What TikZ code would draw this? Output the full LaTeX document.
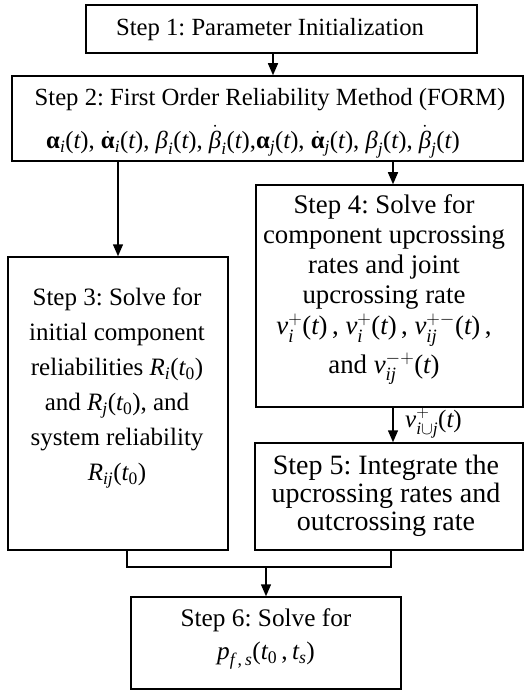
\documentclass[tikz,border=0pt]{standalone}
\usepackage{fix-cm}
\usepackage{amsmath}
\usepackage{fontspec}
\setmainfont{Liberation Serif}
\usetikzlibrary{arrows.meta}
\newcommand\mt[1]{\textit{#1}}
\newcommand\pa[1]{\textup{(}#1\textup{)}}
\newcommand\bal{\textbf{α}}
\newcommand\bet{\textit{β}}
\frenchspacing
\begin{document}
\begin{tikzpicture}[x=1bp,y=-1bp,
  box/.style={draw, line width=1.5bp, inner sep=0pt},
  txt/.style={align=center, inner sep=0pt, font=\fontsize{24.7bp}{30bp}\selectfont},
  arr/.style={line width=1.5bp, -{Triangle[length=12bp,width=10bp]}},
  ln/.style={line width=1.5bp}]
\useasboundingbox (0,0) rectangle (525,690);
% boxes
\node[box, minimum width=391bp, minimum height=48bp] (b1) at (281.5,29) {};
\node[box, minimum width=511bp, minimum height=85bp] (b2) at (267.5,118.5) {};
\node[box, minimum width=220bp, minimum height=293bp] (b3) at (118,403.5) {};
\node[box, minimum width=267bp, minimum height=222bp] (b4) at (389.5,296) {};
\node[box, minimum width=268bp, minimum height=107bp] (b5) at (389,496.5) {};
\node[box, minimum width=270bp, minimum height=92bp] (b6) at (266,643) {};
% texts
\node[txt] (t1) at (270,30) {Step 1: Parameter Initialization};
\node[txt] (t2a) at (270,100) {Step 2: First Order Reliability Method (FORM)};
\node[txt] (t2b) at (253,142) {$\bal_{\mt{i}}\pa{\mt{t}}$, $\dot{\bal}_{\mt{i}}\pa{\mt{t}}$, $\bet_{\mt{i}}\pa{\mt{t}}$, $\dot{\bet}_{\mt{i}}\pa{\mt{t}}$,$\bal_{\mt{j}}\pa{\mt{t}}$, $\dot{\bal}_{\mt{j}}\pa{\mt{t}}$, $\bet_{\mt{j}}\pa{\mt{t}}$, $\dot{\bet}_{\mt{j}}\pa{\mt{t}}$};
\node[txt, font=\fontsize{25bp}{35bp}\selectfont] (t3) at (117,388) {Step 3: Solve for\\ initial component\\ reliabilities $\mt{R}_{\mt{i}}\pa{\mt{t}_{\textup{0}}}$\\ and $\mt{R}_{\mt{j}}\pa{\mt{t}_{\textup{0}}}$, and\\ system reliability\\ $\mt{R}_{\mt{ij}}\pa{\mt{t}_{\textup{0}}}$};
\node[txt, font=\fontsize{26.8bp}{30bp}\selectfont] (t4) at (384,290) {Step 4: Solve for\\ component upcrossing\\ rates and joint\\ upcrossing rate\\[1bp] $\mt{v}^{+}_{\mt{i}}\pa{\mt{t}}$\,, $\mt{v}^{+}_{\mt{i}}\pa{\mt{t}}$\,, $\mt{v}^{+-}_{\mt{ij}}\pa{\mt{t}}$\,,\\[5bp] and $\mt{v}^{-+}_{\mt{ij}}\pa{\mt{t}}$};
\node[txt, font=\fontsize{28bp}{28bp}\selectfont] (t5) at (386,496) {Step 5: Integrate the\\ upcrossing rates and\\ outcrossing rate};
\node[txt, font=\fontsize{25.3bp}{33bp}\selectfont] (t6) at (266,639) {Step 6: Solve for\\ $\mt{p}_{\mt{f}\,\textup{,}\,\mt{s}}\pa{\mt{t}_{\textup{0}}\,\textup{,}\,\mt{t}_{\mt{s}}}$};
% connectors
\coordinate (c1) at (273,0);
\coordinate (c4) at (393,0);
\coordinate (c3) at (127,0);
\coordinate (c5) at (391,0);
\coordinate (j) at (266,567);
\draw[arr] (b1.south -| c1) -- (b2.north -| c1);
\draw[arr] (b3.north |- b2.south) -- (b3.north);
\draw[arr] (b2.south -| c4) -- (b4.north -| c4);
\draw[arr] (b4.south -| c4) -- (b5.north -| c4);
\draw[ln] (b3.south -| c3) |- (j) -| (b5.south -| c5);
\draw[arr] (j) -- (b6.north);
\node[anchor=west, inner sep=0pt, font=\fontsize{25bp}{28bp}\selectfont] (lab) at (405,423) {$\mt{v}^{+}_{\mt{i}\cup\mt{j}}\pa{\mt{t}}$};
\end{tikzpicture}
\end{document}
